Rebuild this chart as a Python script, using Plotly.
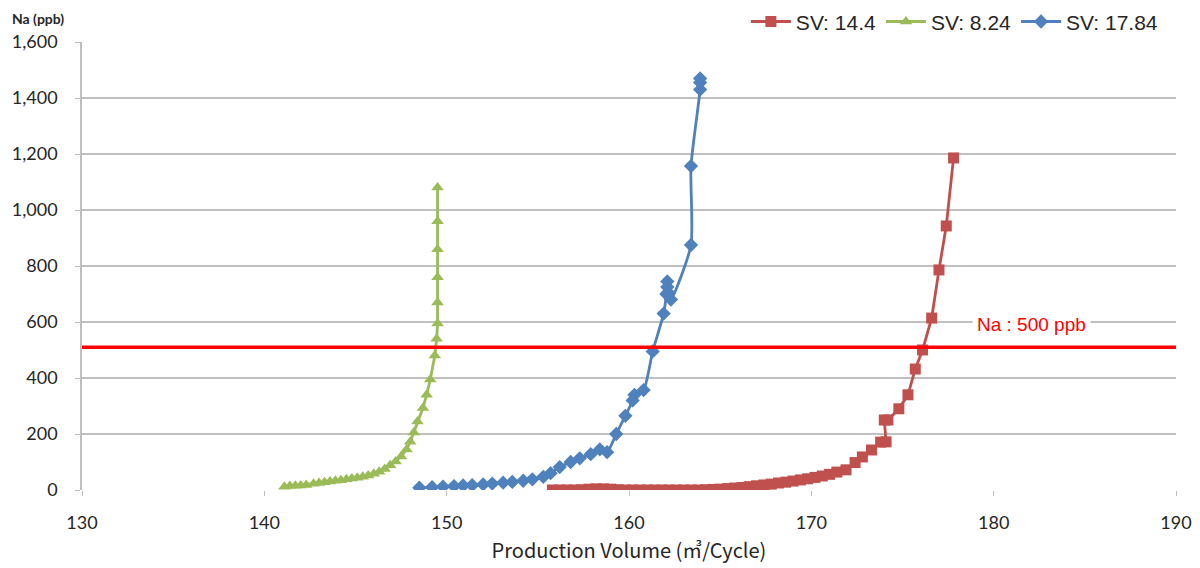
import plotly.graph_objects as go

# ---- data ----
red_name = "SV: 14.4"
red_x = [155.8, 156.2, 156.6, 157.0, 157.4, 157.8, 158.2, 158.6, 159.0, 159.4, 159.8, 160.2, 160.6,
         161.0, 161.4, 161.8, 162.2, 162.6, 163.0, 163.4, 163.8, 164.2, 164.6, 165.0, 165.4, 165.8,
         166.2, 166.6, 167.0, 167.4, 167.8, 168.2, 168.6, 169.0, 169.4, 169.8, 170.2, 170.6, 171.0,
         171.4, 171.9, 172.4, 172.8, 173.3, 173.8, 174.1, 174.0, 174.2, 174.8, 175.3, 175.7, 176.1,
         176.6, 177.0, 177.4, 177.8]
red_y = [0, 0, 0, 0, 1, 3, 4, 4, 3, 1, 0, 0, 0,
         0, 0, 0, 0, 0, 0, 0, 0, 1, 2, 3, 5, 7,
         9, 12, 15, 18, 21, 25, 28, 32, 36, 40, 45, 50, 56,
         64, 72, 98, 118, 143, 171, 172, 250, 250, 290, 340, 432, 500,
         614, 786, 943, 1186]

green_name = "SV: 8.24"
green_x = [141.1, 141.4, 141.7, 142.0, 142.3, 142.7, 143.0, 143.3, 143.6, 143.9, 144.2, 144.5,
           144.8, 145.1, 145.4, 145.7, 146.0, 146.3, 146.6, 146.9, 147.2, 147.5, 147.8, 148.0,
           148.2, 148.4, 148.7, 148.9, 149.1, 149.35, 149.45, 149.5, 149.5, 149.5, 149.5, 149.5, 149.5]
green_y = [12, 14, 15, 16, 18, 22, 25, 28, 30, 33, 35, 38,
           41, 44, 47, 52, 58, 65, 75, 88, 102, 120, 145, 172,
           205, 245, 293, 340, 395, 480, 540, 595, 670, 760, 860, 960, 1080]

blue_name = "SV: 17.84"
blue_x = [148.5, 149.2, 149.8, 150.4, 150.9, 151.4, 152.0, 152.5, 153.1, 153.6, 154.2, 154.7,
          155.3, 155.7, 156.2, 156.8, 157.3, 157.9, 158.4, 158.8, 159.3, 159.8, 160.2, 160.3,
          160.8, 161.3, 161.9, 162.05, 162.1, 162.1, 162.15, 162.3, 163.4, 163.4, 163.9, 163.9, 163.9]
blue_y = [8, 10, 12, 14, 16, 17, 20, 23, 26, 29, 33, 38,
          47, 60, 82, 100, 113, 128, 145, 135, 200, 265, 320, 340,
          357, 495, 630, 700, 745, 725, 705, 680, 875, 1157, 1430, 1455, 1470]

threshold = 510
threshold_label = "Na : 500 ppb"
x_ticks = [130, 140, 150, 160, 170, 180, 190]
y_ticks = [0, 200, 400, 600, 800, 1000, 1200, 1400, 1600]

RED = "#C0504D"
GREEN = "#9BBB59"
BLUE = "#4F81BD"
FONT = "Lato"
TXT = "#262626"

fig = go.Figure()
fig.add_trace(go.Scatter(x=red_x, y=red_y, name=red_name, mode="lines+markers",
                         line=dict(color=RED, width=2.8),
                         marker=dict(symbol="square", size=11, color=RED)))
fig.add_trace(go.Scatter(x=green_x, y=green_y, name=green_name, mode="lines+markers",
                         line=dict(color=GREEN, width=2.8),
                         marker=dict(symbol="triangle-up", size=11, color=GREEN)))
fig.add_trace(go.Scatter(x=blue_x, y=blue_y, name=blue_name, mode="lines+markers",
                         line=dict(color=BLUE, width=2.8, shape="spline", smoothing=0.6),
                         marker=dict(symbol="diamond", size=11, color=BLUE)))

fig.add_shape(type="line", xref="paper", x0=0, x1=1, yref="y", y0=threshold, y1=threshold,
              line=dict(color="#FF0000", width=3.5), layer="above")
fig.add_annotation(x=182.1, y=590, text=threshold_label, showarrow=False,
                   font=dict(family="Liberation Sans", size=19, color="#FF0000"),
                   bgcolor="white", borderpad=4)
fig.add_annotation(xref="paper", yref="paper", x=-0.066, y=1.052, xanchor="left", yanchor="middle",
                   text="<b>Na (ppb)</b>", showarrow=False,
                   font=dict(family=FONT, size=14, color=TXT))

fig.update_layout(
    width=1200, height=568,
    margin=dict(l=74, r=32, t=34, b=86, autoexpand=False),
    paper_bgcolor="white", plot_bgcolor="white",
    font=dict(family=FONT, size=18, color=TXT),
    legend=dict(orientation="h", x=0.988, xanchor="right", y=1.045, yanchor="middle",
                font=dict(family="Liberation Sans", size=21, color=TXT),
                itemwidth=40, tracegroupgap=0),
    xaxis=dict(range=[130, 190], tickvals=x_ticks, showgrid=False, zeroline=False,
               showline=False, ticks="outside", ticklen=5, tickcolor="#BFBFBF",
               ticklabelstandoff=11,
               title=dict(text="Production Volume (㎥/Cycle)", standoff=12,
                          font=dict(family="Noto Sans CJK KR", size=20, color=TXT))),
    yaxis=dict(range=[0, 1600], tickvals=y_ticks, tickformat=",", showgrid=True,
               gridcolor="#C0C0C0", gridwidth=1.5, zeroline=False,
               showline=True, linecolor="#BFBFBF", linewidth=1.5,
               ticks="outside", ticklen=5, tickcolor="#BFBFBF", ticklabelstandoff=14),
)

fig.write_html("out.html")
